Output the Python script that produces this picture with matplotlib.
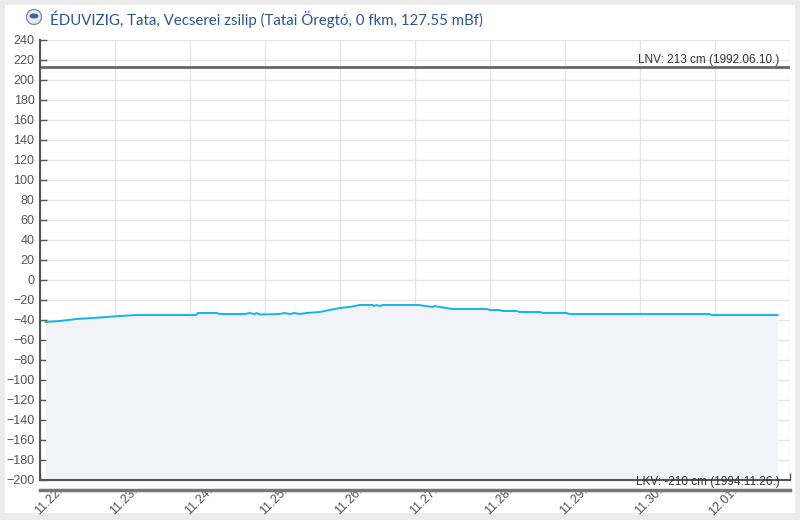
import datetime as dt
import numpy as np
import matplotlib
matplotlib.use("Agg")
import matplotlib.pyplot as plt
import matplotlib.dates as mdates
from matplotlib.patches import Rectangle, Ellipse
from matplotlib.transforms import ScaledTranslation

# vízállás (cm), órák 11.22. 00:00-tól
hours = [1.8, 6.3, 11.7, 16.9, 21.3, 25.5, 31, 50, 50.5, 56.5, 57.5, 65.5, 67, 68.7,
         69.3, 70.3, 76.7, 78.3, 79.9, 81.5, 83, 85.3, 89.5, 92.7, 95.9, 99.1, 102.3,
         106.5, 106.8, 107.7, 108.7, 109.7, 121, 125.7, 126.3, 128, 132, 143, 144, 147,
         148, 152.5, 153.5, 160, 161, 168.5, 169.5, 214, 215, 236]
levels = [-42, -41, -39, -38, -37, -36, -35, -35, -33, -33, -34, -34, -33, -34,
          -33, -34.5, -34, -33, -34, -33, -34, -33, -32, -30, -28, -27, -25,
          -25, -26, -25, -26, -25, -25, -27, -26, -27, -29, -29, -30, -30,
          -31, -31, -32, -32, -33, -33, -34, -34, -35, -35]

title = "ÉDUVIZIG, Tata, Vecserei zsilip (Tatai Öregtó, 0 fkm, 127.55 mBf)"
lnv_value, lnv_label = 213, "LNV: 213 cm (1992.06.10.)"
lkv_value, lkv_label = -210, "LKV: -210 cm (1994.11.26.)"
y_ticks = list(range(-200, 241, 20))

start = dt.datetime(2024, 11, 22)
times = [start + dt.timedelta(hours=h) for h in hours]
day_ticks = [start + dt.timedelta(days=d) for d in range(11)]

fig = plt.figure(figsize=(8, 5.2), dpi=100, facecolor="#ececec")
fig.add_artist(Rectangle((5 / 800, 7 / 520), 790 / 800, 508 / 520, transform=fig.transFigure,
                         facecolor="white", edgecolor="none", zorder=-10))

ax = fig.add_axes([40 / 800, 40 / 520, 750 / 800, 440 / 520])
ax.set_facecolor("white")

ax.fill_between(times, levels, -200, color="#f2f3f8", zorder=1, linewidth=0)
ax.plot(times, levels, color="#13b5ea", linewidth=1.4, zorder=3)

ax.axhline(lnv_value, color="#666666", linewidth=2, zorder=2)
ax.axhline(lkv_value, color="#777777", linewidth=2.5, zorder=2, clip_on=False)
ax.text(0.986, lnv_value + 1.5, lnv_label, transform=ax.get_yaxis_transform(),
        ha="right", va="bottom", fontsize=8.5, color="#333333", family="Liberation Sans")
ax.text(0.986, lkv_value + 2, lkv_label, transform=ax.get_yaxis_transform(),
        ha="right", va="bottom", fontsize=8.5, color="#333333", family="Liberation Sans",
        clip_on=False)

ax.set_ylim(-200, 240)
ax.set_xlim(day_ticks[0], day_ticks[-1])
ax.set_yticks(y_ticks)
ax.set_xticks(day_ticks)
ax.set_xticklabels([d.strftime("%m.%d.") for d in day_ticks[:-1]] + [""])

ax.grid(True, color="#e6e6e6", linewidth=1)
ax.set_axisbelow(True)
for s in ["top", "right"]:
    ax.spines[s].set_visible(False)
for s in ["left", "bottom"]:
    ax.spines[s].set_color("#555555")
    ax.spines[s].set_linewidth(1.5)

ax.tick_params(axis="both", direction="in", length=5, width=1, color="#555555",
               labelcolor="#555555", labelsize=9)
ax.tick_params(axis="y", pad=4)
ax.tick_params(axis="x", pad=0)
for lab in ax.get_yticklabels():
    lab.set_family("Liberation Sans")
for lab in ax.get_xticklabels():
    lab.set_family("Liberation Sans")
    lab.set_rotation(45)
    lab.set_rotation_mode("anchor")
    lab.set_ha("right")
    lab.set_va("center")
    lab.set_transform(lab.get_transform() + ScaledTranslation(0.21, -0.09, fig.dpi_scale_trans))

# kis logó a cím előtt
fig.add_artist(Ellipse((34 / 800, 1 - 17 / 520), 15 / 800, 15 / 520, transform=fig.transFigure,
                       facecolor="#e8ecf2", edgecolor="#7d8fae", linewidth=1))
fig.add_artist(Ellipse((34 / 800, 1 - 16 / 520), 9 / 800, 5 / 520, transform=fig.transFigure,
                       facecolor="#3f5f96", edgecolor="none"))
fig.text(50 / 800, 1 - 19 / 520, title, ha="left", va="center", fontsize=10.8,
         color="#2b5595", family="Lato")

fig.savefig("out.png", dpi=100, facecolor=fig.get_facecolor())
